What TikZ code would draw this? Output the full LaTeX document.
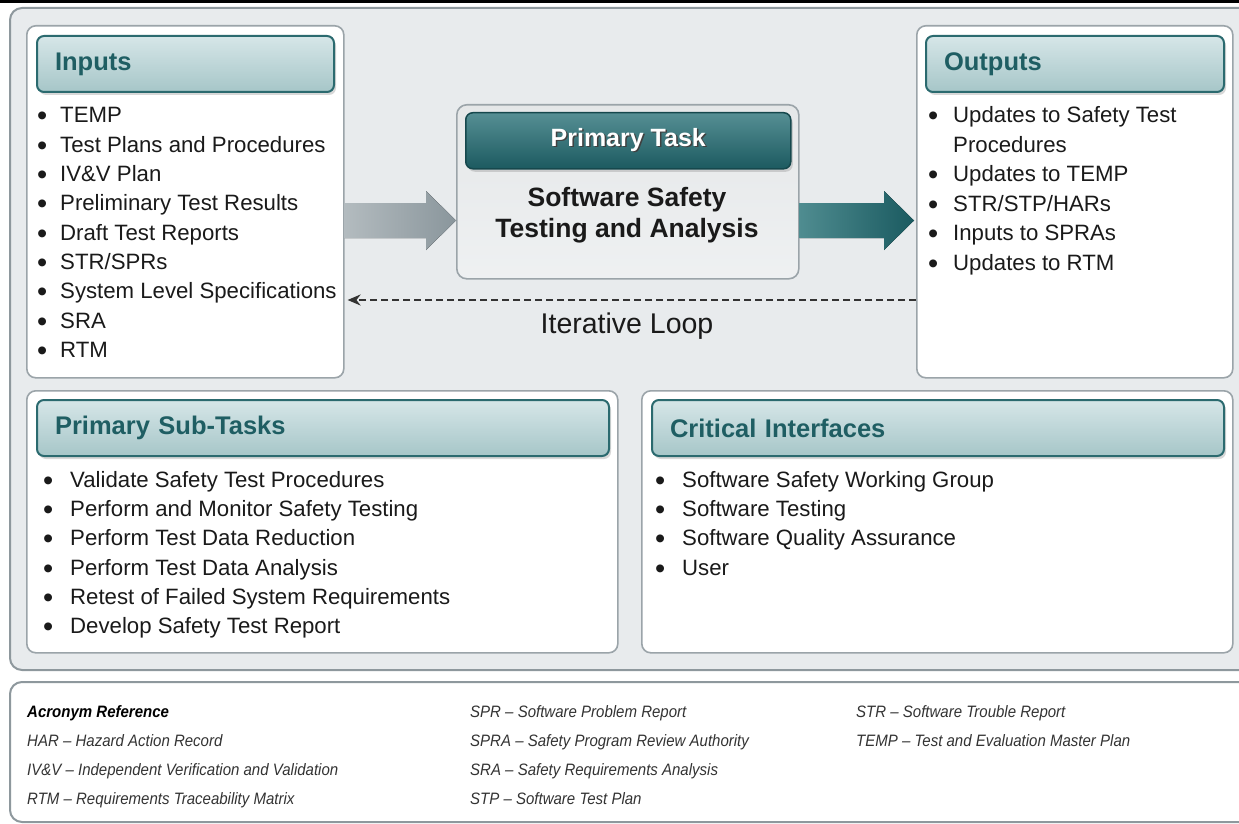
\documentclass[tikz,border=0pt]{standalone}
\usepackage{fontspec}
\setmainfont{Liberation Sans}
\newfontfamily\acrofont[FakeStretch=0.91]{Liberation Sans}
\usetikzlibrary{arrows.meta, calc, shadows}
\definecolor{panelgray}{HTML}{E8EBED}
\definecolor{panelline}{HTML}{8E989D}
\definecolor{boxline}{HTML}{9BA4A9}
\definecolor{hdtop}{HTML}{D6E6E8}
\definecolor{hdbot}{HTML}{A6C6C8}
\definecolor{hdline}{HTML}{2B6A6F}
\definecolor{hdtext}{HTML}{1F5E63}
\definecolor{tasktop}{HTML}{568F94}
\definecolor{taskbot}{HTML}{1C5A60}
\definecolor{taskfill}{HTML}{E3E7E9}
\definecolor{arrowlight}{HTML}{B3BBBF}
\definecolor{arrowgray}{HTML}{8A969C}
\definecolor{tealmid}{HTML}{4F8C90}
\definecolor{tealdark}{HTML}{1A5A60}
\definecolor{loopgray}{HTML}{333333}
\definecolor{acrotext}{HTML}{333333}
\definecolor{listtext}{HTML}{1A1A1A}
\newcommand\listfont{\fontsize{22.2}{26}\selectfont}
% bigger bullet, pulled down onto the cap-height middle
\newcommand\bul{\raisebox{-3pt}{\fontsize{29}{29}\selectfont•}}
\tikzset{
  panel/.style={
    draw=panelline,
    line width=2pt,
    fill=panelgray,
    rounded corners=12pt
  },
  listbox/.style={
    draw=boxline,
    line width=1.6pt,
    fill=white,
    rounded corners=9pt,
    anchor=north west,
    inner sep=0pt
  },
  header/.style={
    draw=hdline,
    line width=2pt,
    rounded corners=7pt,
    top color=hdtop,
    bottom color=hdbot,
    minimum height=56pt,
    inner xsep=18pt,
    inner ysep=0pt,
    align=left,
    anchor=north west,
    text=hdtext,
    font=\fontsize{25.5}{30}\selectfont\bfseries,
    drop shadow={shadow xshift=2pt, shadow yshift=-3pt, opacity=0.3}
  },
  item/.style={
    anchor=base west,
    inner sep=0pt,
    text=listtext,
    font=\listfont
  },
  acro/.style={
    anchor=base west,
    inner sep=0pt,
    text=acrotext,
    font=\acrofont\itshape\fontsize{16.5}{20}\selectfont
  }
}

\begin{document}
\begin{tikzpicture}[x=1pt, y=-1pt]
    \useasboundingbox (0,0) rectangle (1239,824);

    % black rule on top
    \fill[black] (0,0) rectangle (1239,3.3);

    % big grey panel and the acronym panel (both run past the right edge)
    \draw[panel] (10,8) rectangle (1262,670);
    \draw[panel, fill=white] (10,682) rectangle (1262,822);

    % four list boxes
    \node[listbox, minimum width=317pt, minimum height=352pt] (inbox) at (26,25) {};
    \node[listbox, minimum width=316pt, minimum height=352pt] (outbox) at (916,25) {};
    \node[listbox, minimum width=591pt, minimum height=262pt] (subbox) at (26,390) {};
    \node[listbox, minimum width=591pt, minimum height=262pt] (critbox) at (641,390) {};

    % headers
    \node[header, text width=261pt] (inhead) at (36,35) {Inputs};
    \node[header, text width=262pt] (outhead) at (925,35) {Outputs};
    \node[header, text width=536pt] (subhead) at (36,399) {Primary Sub-Tasks};
    \node[header, text width=536pt] (crithead) at (651,399) {Critical Interfaces};

    % primary task in the middle
    \node[draw=boxline, line width=1.6pt, rounded corners=10pt, top color=taskfill!85!gray!60!white,
          bottom color=taskfill!60!white, minimum width=342pt, minimum height=174pt,
          anchor=north west, inner sep=0pt] (task) at (456,104) {};
    \node[draw=taskbot!80!black, line width=1.5pt, rounded corners=7pt, top color=tasktop,
          bottom color=taskbot, minimum width=325pt, minimum height=56pt, anchor=north west,
          inner sep=0pt, text=white, font=\fontsize{25}{30}\selectfont\bfseries,
          drop shadow={shadow xshift=2pt, shadow yshift=-3pt, opacity=0.3}] (taskhead) at (465,112)
          {\makebox[0pt][l]{\hspace{1.5pt}\raisebox{-1.5pt}{\color{black!75}Primary Task}}Primary Task};
    \node[align=center, inner sep=0pt, text=listtext,
          font=\fontsize{26.5}{31}\selectfont\bfseries] (tasktxt) at (627,215) {Software Safety\\Testing and Analysis};

    % block arrows in and out
    \coordinate (inA) at (inbox.east |- 0,220.5);
    \coordinate (inB) at (task.west |- 0,220.5);
    \fill[left color=arrowlight, right color=arrowgray]
      ($(inA)+(0,-17.5)$) -- ($(inB)+(-30,-17.5)$) -- ($(inB)+(-30,-29.5)$) -- (inB)
      -- ($(inB)+(-30,29.5)$) -- ($(inB)+(-30,17.5)$) -- ($(inA)+(0,17.5)$) -- cycle;
    \coordinate (outA) at (task.east |- 0,220.5);
    \coordinate (outB) at (outbox.west |- 0,220.5);
    \fill[left color=tealmid, right color=tealdark]
      ($(outA)+(0,-17.5)$) -- ($(outB)+(-32,-17.5)$) -- ($(outB)+(-32,-29.5)$) -- ($(outB)+(-2,0)$)
      -- ($(outB)+(-32,29.5)$) -- ($(outB)+(-32,17.5)$) -- ($(outA)+(0,17.5)$) -- cycle;

    % iterative loop back to the inputs
    \draw[loopgray, line width=2pt, dash pattern=on 7pt off 4pt, -{Stealth[length=13pt, width=11pt]}]
      (outbox.west |- 0,300) -- ($(inbox.east |- 0,300)+(3,0)$);
    \node[inner sep=0pt, text=listtext, font=\fontsize{28.5}{33}\selectfont] (looptxt) at (627,326) {Iterative Loop};

    % lists
    \foreach \txt [count=\i from 0] in {TEMP, Test Plans and Procedures, IV\&V Plan,
        Preliminary Test Results, Draft Test Reports, STR/SPRs, System Level Specifications, SRA, RTM}
      \node[item] (in-\i) at (37,{123+29.3*\i}) {\makebox[23pt][l]{\bul}\txt};
    \foreach \b/\txt [count=\i from 0] in {\bul/Updates to Safety Test, /Procedures, \bul/Updates to TEMP,
        \bul/{STR/STP/HARs}, \bul/Inputs to SPRAs, \bul/Updates to RTM}
      \node[item] (out-\i) at (928,{123+29.4*\i}) {\makebox[25pt][l]{\b}\txt};
    \foreach \txt [count=\i from 0] in {Validate Safety Test Procedures, Perform and Monitor Safety Testing,
        Perform Test Data Reduction, Perform Test Data Analysis, Retest of Failed System Requirements,
        Develop Safety Test Report}
      \node[item] (sub-\i) at (43,{487.5+29.2*\i}) {\makebox[27pt][l]{\bul}\txt};
    \foreach \txt [count=\i from 0] in {Software Safety Working Group, Software Testing,
        Software Quality Assurance, User}
      \node[item] (crit-\i) at (655,{487.5+29.2*\i}) {\makebox[27pt][l]{\bul}\txt};

    % acronym reference
    \node[acro, font=\acrofont\itshape\bfseries\fontsize{16.5}{20}\selectfont, text=black] (acrohead) at (27,717) {Acronym Reference};
    \node[acro] (har) at (27,746) {HAR – Hazard Action Record};
    \node[acro] (ivv) at (27,775) {IV\&V – Independent Verification and Validation};
    \node[acro] (rtm) at (27,804) {RTM – Requirements Traceability Matrix};
    \node[acro] (spr) at (470,717) {SPR – Software Problem Report};
    \node[acro] (spra) at (470,746) {SPRA – Safety Program Review Authority};
    \node[acro] (sra) at (470,775) {SRA – Safety Requirements Analysis};
    \node[acro] (stp) at (470,804) {STP – Software Test Plan};
    \node[acro] (str) at (856,717) {STR – Software Trouble Report};
    \node[acro] (temp) at (856,746) {TEMP – Test and Evaluation Master Plan};

\end{tikzpicture}
\end{document}
